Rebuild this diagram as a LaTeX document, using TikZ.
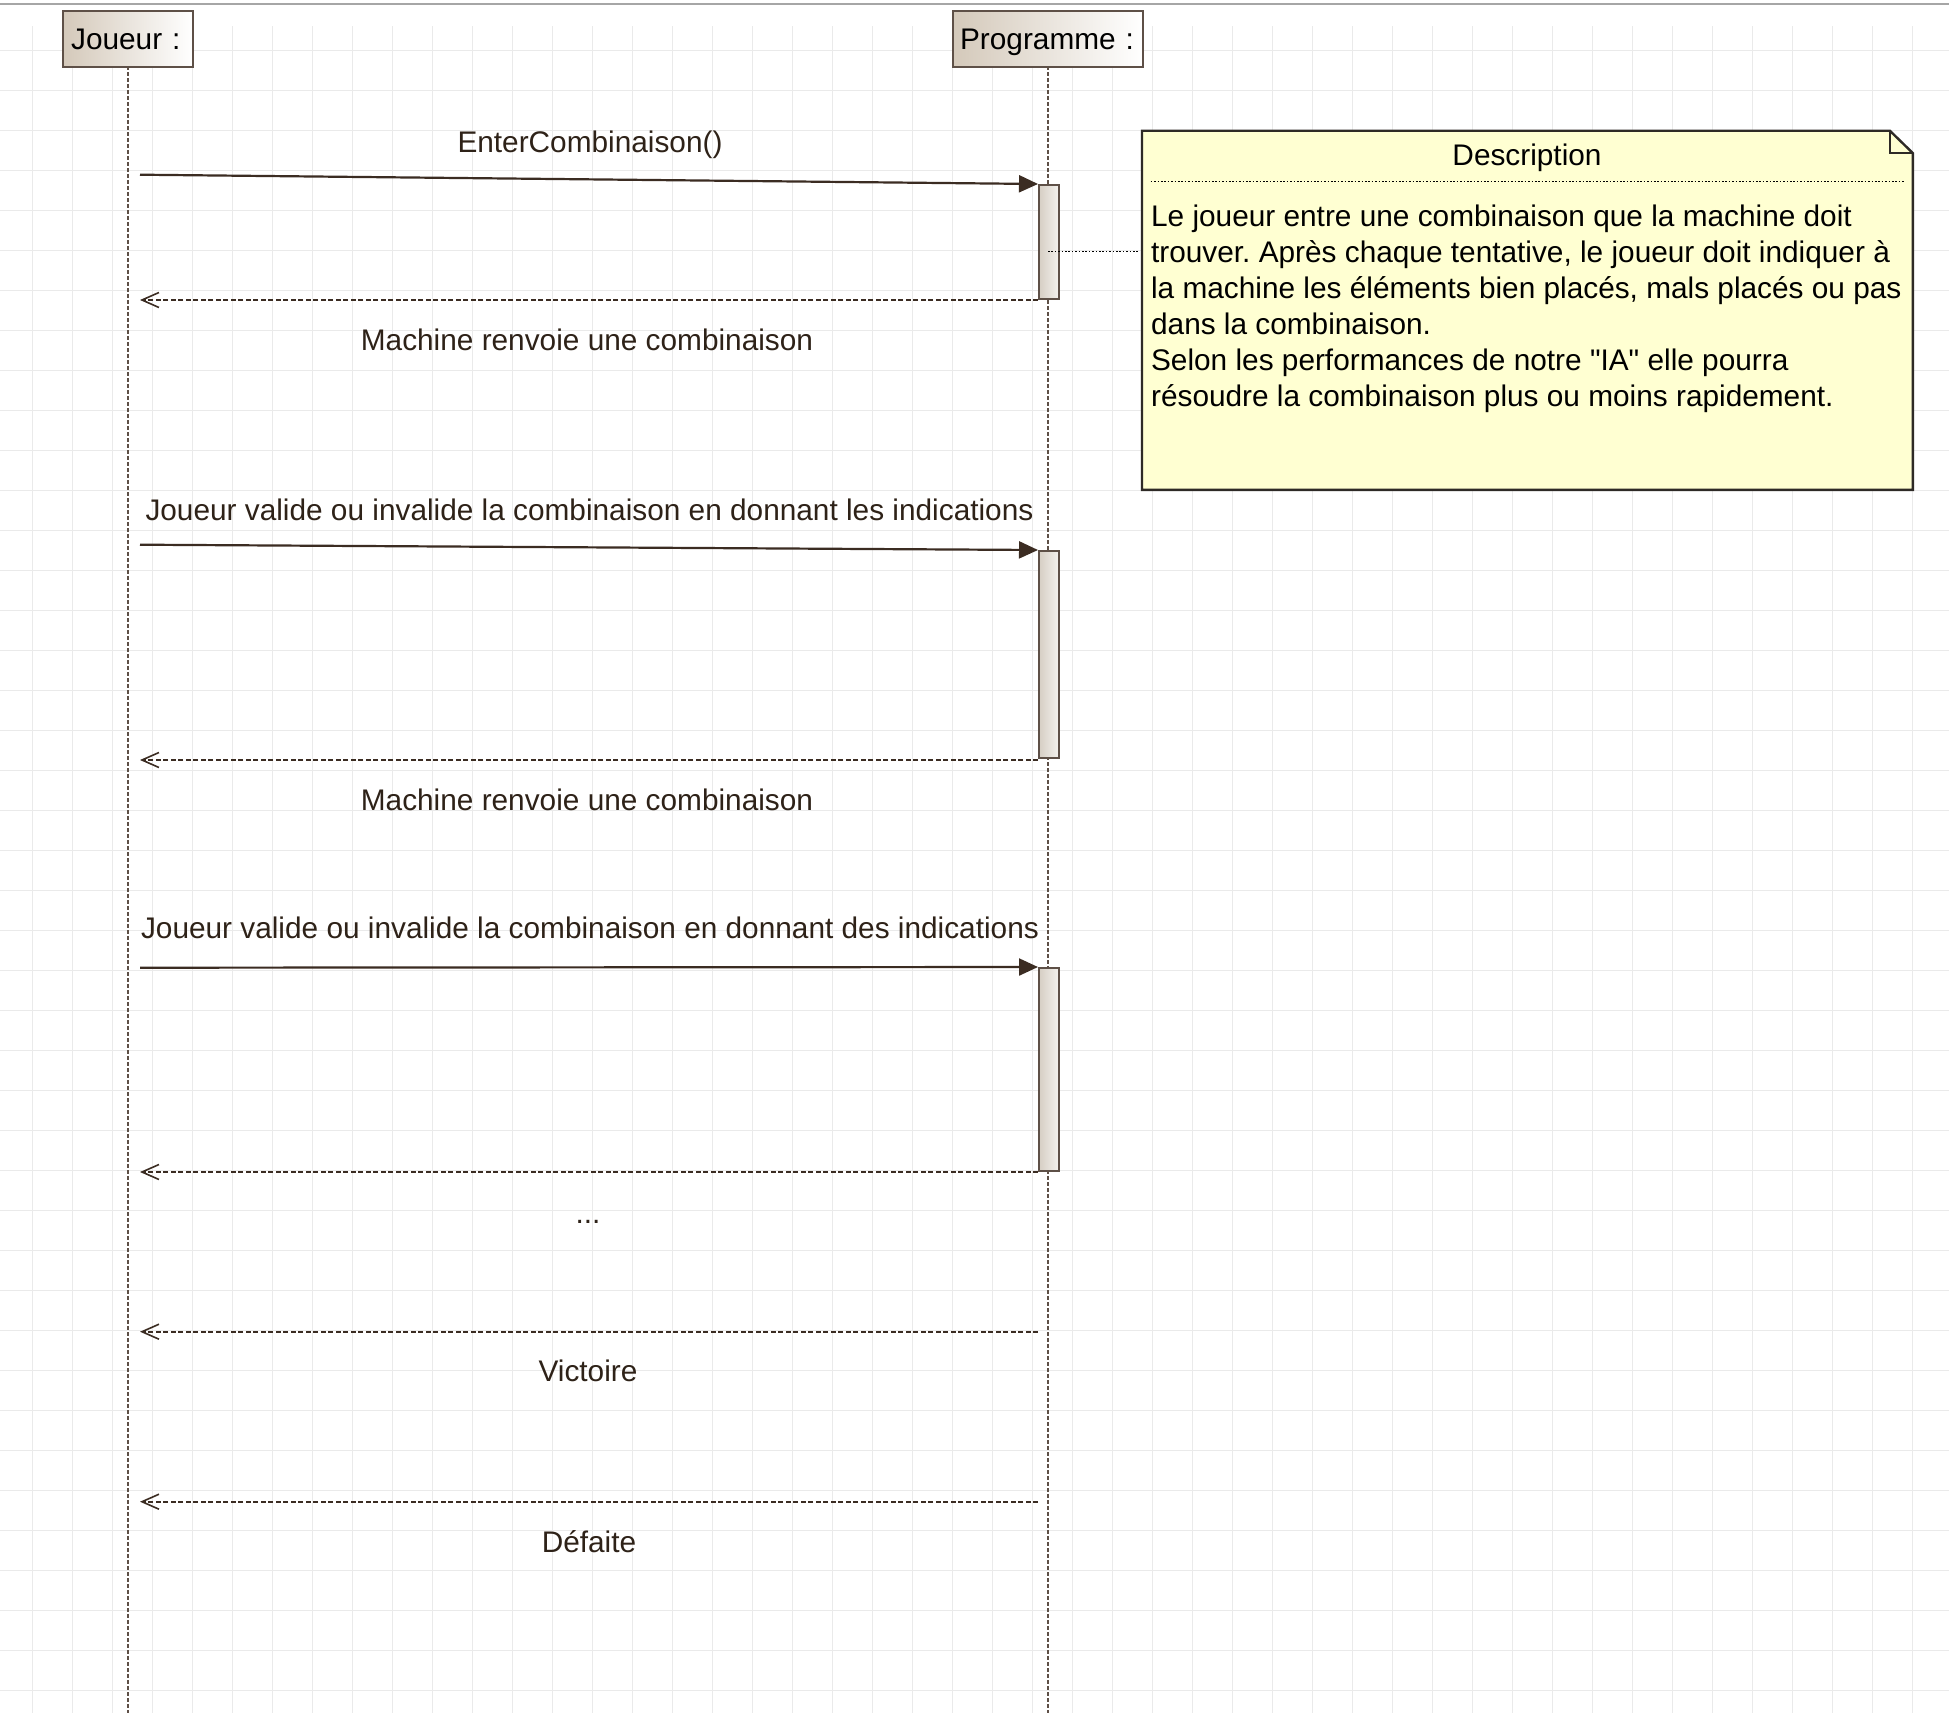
\documentclass[tikz,border=0pt]{standalone}
\usepackage{fontspec}
\setmainfont{Liberation Sans}[Ligatures=TeXOff]
\usetikzlibrary{arrows.meta}
\definecolor{lineclr}{HTML}{3B2C22}
\definecolor{lifeclr}{HTML}{5E5047}
\definecolor{boxborder}{HTML}{5E5047}
\definecolor{headleft}{HTML}{D4C9BA}
\definecolor{barleft}{HTML}{D6CEC4}
\definecolor{barright}{HTML}{F4F2EE}
\definecolor{notefill}{HTML}{FFFFD2}
\definecolor{noteborder}{HTML}{2E2A26}
\definecolor{gridclr}{HTML}{EAEAEA}
\definecolor{topline}{HTML}{A6A6A6}
\definecolor{labelclr}{HTML}{2E2218}
\begin{document}
\frenchspacing
\begin{tikzpicture}[x=0.5pt,y=-0.5pt,
  txt/.style={font=\fontsize{14.9pt}{18pt}\selectfont},
  lbl/.style={txt, text=labelclr, inner sep=0pt, anchor=base},
  headbox/.style={txt, draw=boxborder, line width=1.1pt, left color=headleft, right color=white,
    inner ysep=0pt, text height=19pt, text depth=9pt, align=left, anchor=north west, text=black},
  actbar/.style={draw=boxborder, line width=1pt, left color=barleft, right color=barright,
    inner sep=0pt, minimum width=10pt, anchor=north west},
  lifeline/.style={draw=lifeclr, line width=0.8pt, dash pattern=on 2pt off 1pt},
  msg/.style={draw=lineclr, line width=1.1pt, -{Triangle[length=9.5pt,width=8.5pt]}},
  ret/.style={draw=lineclr, line width=0.8pt, dash pattern=on 2.5pt off 1.25pt,
    -{Straight Barb[length=8.5pt,width=7.5pt,line width=0.8pt]}},
  dotline/.style={draw=black, line width=0.75pt, dash pattern=on 0.8pt off 0.9pt},
  gridline/.style={draw=gridclr, line width=0.5pt},
  notebox/.style={draw=noteborder, line width=1.2pt, fill=notefill, line join=miter}
]
\useasboundingbox (0,0) rectangle (1949,1713);
\fill[white] (0,0) rectangle (1949,1713);
% grid
\foreach \gx in {32,72,...,1912} \draw[gridline] (\gx,26) -- (\gx,1713);
\foreach \gy in {50,90,...,1690} \draw[gridline] (0,\gy) -- (1949,\gy);
\draw[draw=topline, line width=0.8pt] (0,4) -- (1949,4);

% headers
\node[headbox, inner xsep=4pt, text width=57pt] (joueur) at (62,10) {Joueur :};
\node[headbox, inner xsep=3.5pt, text width=88pt] (prog) at (952,10) {Programme :};

\coordinate (bottom) at (0,1713);
\coordinate (jl) at (128,66);
\coordinate (pl) at (1048,66);
\draw[lifeline] (jl) -- (jl |- bottom);
\draw[lifeline] (pl) -- (pl |- bottom);

% activation bars
\node[actbar, minimum height=57pt] (bar1) at (1038,184) {};
\node[actbar, minimum height=103.5pt] (bar2) at (1038,550) {};
\node[actbar, minimum height=101.5pt] (bar3) at (1038,967) {};

% messages
\coordinate (m1s) at (140,174.7);
\coordinate (m2s) at (140,544.7);
\coordinate (m3s) at (140,967.7);
\draw[msg] (m1s) -- (bar1.north west);
\draw[msg] (m2s) -- (bar2.north west);
\draw[msg] (m3s) -- (bar3.north west);

% returns
\coordinate (r1s) at (1038,300);   \coordinate (r1e) at (140,300);
\coordinate (r2s) at (1038,760);   \coordinate (r2e) at (140,760);
\coordinate (r3s) at (1038,1172);  \coordinate (r3e) at (140,1172);
\coordinate (r4s) at (1038,1331.7);\coordinate (r4e) at (140,1331.7);
\coordinate (r5s) at (1038,1501.7);\coordinate (r5e) at (140,1501.7);
\draw[ret] (r1s) -- (r1e);
\draw[ret] (r2s) -- (r2e);
\draw[ret] (r3s) -- (r3e);
\draw[ret] (r4s) -- (r4e);
\draw[ret] (r5s) -- (r5e);

% labels
\node[lbl] (l1) at (590,152) {EnterCombinaison()};
\node[lbl] (l2) at (587,350) {Machine renvoie une combinaison};
\node[lbl] (l3) at (589.5,520) {Joueur valide ou invalide la combinaison en donnant les indications};
\node[lbl] (l4) at (587,810) {Machine renvoie une combinaison};
\node[lbl] (l5) at (590,938) {Joueur valide ou invalide la combinaison en donnant des indications};
\node[lbl] (l6) at (588,1223) {...};
\node[lbl] (l7) at (588,1381) {Victoire};
\node[lbl] (l8) at (589,1552) {Défaite};

% note
\node[minimum width=385pt, minimum height=179.15pt, inner sep=0pt, anchor=north west] (note) at (1142,130.7) {};
\draw[notebox] (note.north west) -- ([xshift=-11.5pt]note.north east) -- ([yshift=-11.2pt]note.north east)
  -- (note.south east) -- (note.south west) -- cycle;
\draw[draw=noteborder, line width=1.2pt] ([xshift=-11.5pt]note.north east) -- ([xshift=-11.5pt,yshift=-11.2pt]note.north east) -- ([yshift=-11.2pt]note.north east);
\node[txt, inner sep=0pt, anchor=base, text=black] (ntitle) at (1527,165.7) {Description};
\coordinate (sepL) at (1150.7,181.7);
\coordinate (sepR) at (1904,181.7);
\draw[dotline] (sepL) -- (sepR);
\node[txt, inner sep=0pt, anchor=north west, align=left, text=black] (ntext) at (1150.7,204.3)
 {Le joueur entre une combinaison que la machine doit\\
  trouver. Après chaque tentative, le joueur doit indiquer à\\
  la machine les éléments bien placés, mals placés ou pas\\
  dans la combinaison.\\
  Selon les performances de notre "IA" elle pourra\\
  résoudre la combinaison plus ou moins rapidement.};
\coordinate (nc) at (1048,251.7);
\coordinate (nce) at (1138,251.7);
\draw[dotline] (nc) -- (nce);
\end{tikzpicture}
\end{document}
